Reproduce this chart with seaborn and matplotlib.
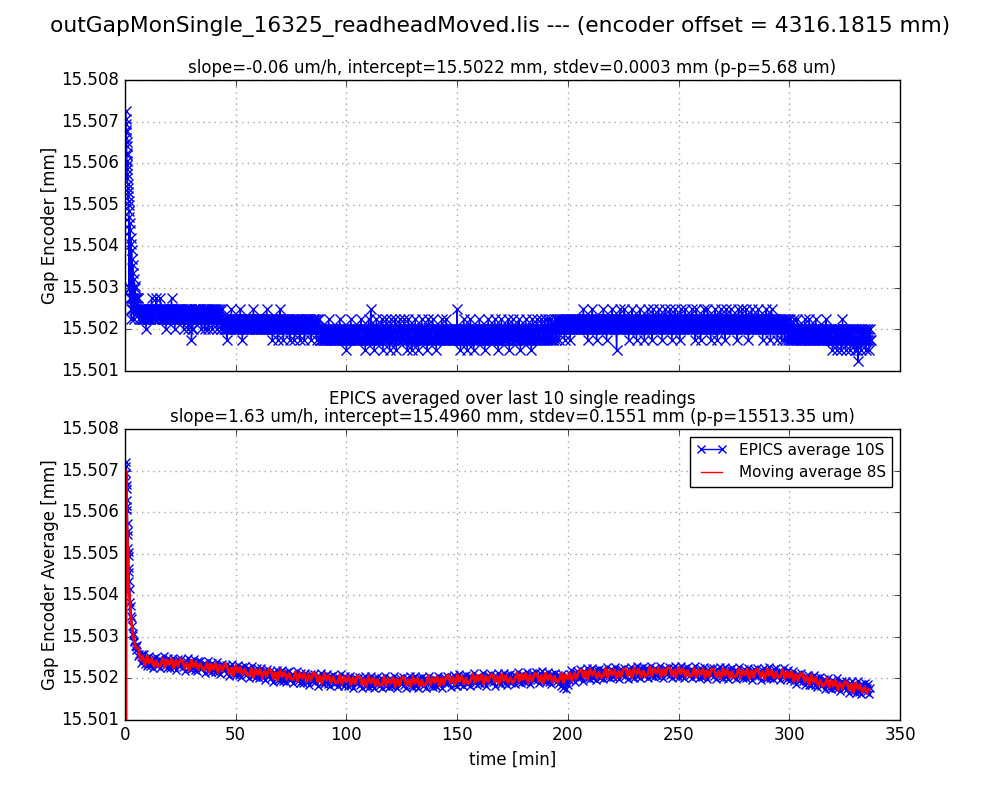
"""Gap encoder monitor: single readings and EPICS 10-sample averages."""

import matplotlib

matplotlib.use("Agg")
import matplotlib.pyplot as plt
import numpy as np
import seaborn as sns


BASE_MM = 15.500  # every *_UM value below is micrometres above this
TOP_STEP_MIN = 0.25
AVG10_STEP_MIN = 0.5
AVG8_STEP_MIN = 1.0

SUPTITLE = "outGapMonSingle_16325_readheadMoved.lis --- (encoder offset = 4316.1815 mm)"
TOP_TITLE = "slope=-0.06 um/h, intercept=15.5022 mm, stdev=0.0003 mm (p-p=5.68 um)"
BOT_TITLE = (
    "EPICS averaged over last 10 single readings\n"
    "slope=1.63 um/h, intercept=15.4960 mm, stdev=0.1551 mm (p-p=15513.35 um)"
)

# --- top panel: single readings --------------------------------------------
# first minutes, read point by point
TOP_EARLY_T = [
    0.4, 0.45, 0.5, 0.55, 0.6, 0.65, 0.7, 0.75, 0.8, 0.85,
    0.9, 0.95, 1.0, 1.05, 1.1, 1.2, 1.3, 1.4, 1.5, 1.6,
    1.7, 1.8, 1.9, 2.0, 2.1, 2.2, 2.3, 2.4, 2.5, 2.6,
    2.7, 2.8, 2.9, 3.0, 3.1, 3.2, 3.35, 3.5, 3.65, 3.8,
    3.95, 4.1, 4.25, 4.4, 4.55, 4.7, 4.85,
]
TOP_EARLY_UM = [
    7.25, 7.05, 6.95, 6.8, 6.75, 6.6, 6.5, 6.4, 6.25, 6.2,
    6.05, 5.95, 5.85, 5.75, 5.65, 5.5, 5.4, 5.3, 5.2, 5.1,
    5.0, 4.85, 3.0, 4.7, 2.75, 4.55, 3.0, 4.4, 2.5, 4.2,
    2.75, 4.05, 2.25, 3.9, 2.75, 3.7, 2.5, 3.55, 2.75, 3.35,
    2.25, 3.2, 2.75, 3.05, 2.5, 3.0, 2.75,
]
# after that the encoder sits on discrete steps; one digit per sample
TOP_LEVELS_UM = [1.00, 1.25, 1.50, 1.75, 2.00, 2.25, 2.50, 2.75, 3.00]
TOP_START_MIN = 5.0
TOP_LEVEL_CODES = [
    "7667765665566556654565566556765665567665",  # 5 - 15 min
    "6556765665566545655665567656654565566556",
    "6556654565566545655634456556655665566545",
    "5665455665456556564565566545655654456545",
    "5445344554456545544554455445654534455445",
    "4554455454456545544554455445544545546545",  # 55 min
    "5445543454455445345465544534544554455434",
    "4554453454455445344554453445544554453445",
    "4554453445544334433443344334543443344334",
    "4334433454344334433423344334543443344334",
    "3443345443344323433454346334432343543443",  # 105 min
    "4334542343345434432354344334542343345434",
    "3443543443235434432334435434432343345434",
    "4334432354344334543443234334433454344334",
    "5434433443344334433463344323433454344323",
    "4334543443234334433454344334432343345434",  # 155 min
    "4334433454344323433454344334433454234334",
    "5434433443345423433443345434433443235434",
    "4334543443345434435443345434435443345443",
    "5445345445544534544554453454455445544554",
    "4554455465544554345445546554455434544554",  # 205 min
    "5445654554345445544565544554245445654554",
    "4565544554345445655445543454456554455434",
    "5445655445543465544554456554453454456554",
    "4554655434544565544554346545544565544554",
    "5445654554346554455434544565544565455434",  # 255 min
    "4554456554345445655445543465455445655445",
    "5445543465544565455445655434544565544554",
    "4554655445543454456554455434654554455434",
    "5445543445543454453443544334543443543443",
    "4334433454344334543443344334543443344334",  # 305 min
    "3443345443344334432334433423433443235434",
    "3423433443234334432334231343342343344323",
    "34432343",
]

# --- bottom panel: EPICS average of 10 readings ----------------------------
AVG10_EARLY_T = [
    0.3, 0.4, 0.5, 0.6, 0.7, 0.8, 0.9, 1.0, 1.1, 1.2,
    1.3, 1.4, 1.5, 1.6, 1.7, 1.8, 1.9, 2.0, 2.2, 2.4,
    2.6, 2.8, 3.0, 3.25, 3.5, 3.75, 4.0, 4.25, 4.5, 4.75,
    5.0,
]
AVG10_EARLY_UM = [
    7.20, 6.95, 7.10, 6.75, 6.55, 6.65, 6.30, 6.05, 6.15, 5.75,
    5.45, 5.55, 5.15, 4.95, 5.05, 4.65, 4.55, 4.35, 4.15, 3.85,
    3.75, 3.50, 3.45, 3.25, 3.10, 3.05, 2.90, 2.88, 2.78, 2.76,
    2.68,
]
AVG10_START_MIN = 5.5
AVG10_UM = [
    2.80, 2.55, 2.60, 2.38, 2.59, 2.45, 2.59, 2.34, 2.48, 2.30,  # 5.5 - 10 min
    2.35, 2.55, 2.30, 2.47, 2.26, 2.50, 2.37, 2.52, 2.31, 2.42,
    2.47, 2.24, 2.43, 2.35, 2.53, 2.29, 2.40, 2.26, 2.48, 2.31,
    2.26, 2.39, 2.50, 2.27, 2.38, 2.21, 2.43, 2.46, 2.31, 2.34,
    2.46, 2.27, 2.37, 2.19, 2.43, 2.32, 2.48, 2.24, 2.39, 2.22,
    2.26, 2.46, 2.21, 2.38, 2.17, 2.41, 2.28, 2.43, 2.22, 2.33,  # 30.5 min
    2.37, 2.14, 2.33, 2.25, 2.43, 2.19, 2.30, 2.16, 2.38, 2.21,
    2.15, 2.28, 2.39, 2.16, 2.27, 2.10, 2.32, 2.35, 2.20, 2.23,
    2.33, 2.14, 2.24, 2.06, 2.30, 2.19, 2.35, 2.11, 2.26, 2.09,
    2.13, 2.33, 2.08, 2.25, 2.04, 2.28, 2.15, 2.30, 2.09, 2.20,
    2.24, 2.01, 2.20, 2.12, 2.30, 2.06, 2.17, 2.03, 2.25, 2.08,  # 55.5 min
    2.02, 2.15, 2.26, 2.03, 2.14, 1.97, 2.19, 2.22, 2.07, 2.10,
    2.19, 2.00, 2.10, 1.92, 2.16, 2.05, 2.21, 1.97, 2.12, 1.95,
    2.00, 2.20, 1.95, 2.12, 1.91, 2.15, 2.02, 2.17, 1.96, 2.07,
    2.11, 1.88, 2.07, 1.99, 2.17, 1.93, 2.04, 1.90, 2.12, 1.95,
    1.90, 2.03, 2.14, 1.91, 2.02, 1.85, 2.07, 2.10, 1.95, 1.98,  # 80.5 min
    2.10, 1.91, 2.01, 1.83, 2.07, 1.96, 2.12, 1.88, 2.03, 1.86,
    1.91, 2.11, 1.86, 2.03, 1.82, 2.06, 1.93, 2.08, 1.87, 1.98,
    2.04, 1.81, 2.00, 1.92, 2.10, 1.86, 1.97, 1.83, 2.05, 1.88,
    1.83, 1.96, 2.07, 1.84, 1.95, 1.78, 2.00, 2.03, 1.88, 1.91,
    2.04, 1.85, 1.95, 1.77, 2.01, 1.90, 2.06, 1.82, 1.97, 1.80,  # 105.5 min
    1.86, 2.06, 1.81, 1.98, 1.77, 2.01, 1.88, 2.03, 1.82, 1.93,
    2.00, 1.77, 1.96, 1.88, 2.06, 1.82, 1.93, 1.79, 2.01, 1.84,
    1.81, 1.94, 2.05, 1.82, 1.93, 1.76, 1.98, 2.01, 1.86, 1.89,
    2.03, 1.84, 1.94, 1.76, 2.00, 1.89, 2.05, 1.81, 1.96, 1.79,
    1.86, 2.06, 1.81, 1.98, 1.77, 2.01, 1.88, 2.03, 1.82, 1.93,  # 130.5 min
    2.01, 1.78, 1.97, 1.89, 2.07, 1.83, 1.94, 1.80, 2.02, 1.85,
    1.83, 1.96, 2.07, 1.84, 1.95, 1.78, 2.00, 2.03, 1.88, 1.91,
    2.07, 1.88, 1.98, 1.80, 2.04, 1.93, 2.09, 1.85, 2.00, 1.83,
    1.91, 2.11, 1.86, 2.03, 1.82, 2.06, 1.93, 2.08, 1.87, 1.98,
    2.06, 1.83, 2.02, 1.94, 2.12, 1.88, 1.99, 1.85, 2.07, 1.90,  # 155.5 min
    1.88, 2.01, 2.12, 1.89, 2.00, 1.83, 2.05, 2.08, 1.93, 1.96,
    2.10, 1.91, 2.01, 1.83, 2.07, 1.96, 2.12, 1.88, 2.03, 1.86,
    1.93, 2.13, 1.88, 2.05, 1.84, 2.08, 1.95, 2.10, 1.89, 2.00,
    2.09, 1.86, 2.05, 1.97, 2.15, 1.91, 2.02, 1.88, 2.10, 1.93,
    1.92, 2.05, 2.16, 1.93, 2.04, 1.87, 2.09, 2.12, 1.97, 2.00,  # 180.5 min
    2.15, 1.96, 2.06, 1.88, 2.12, 2.01, 2.17, 1.93, 2.08, 1.91,
    1.96, 2.16, 1.91, 2.08, 1.87, 2.11, 1.98, 2.13, 1.92, 2.03,
    2.08, 1.88, 2.05, 1.82, 2.10, 1.78, 1.99, 1.75, 2.04, 1.85,
    1.97, 2.10, 2.21, 1.98, 2.09, 1.92, 2.14, 2.17, 2.02, 2.05,
    2.22, 2.03, 2.13, 1.95, 2.19, 2.08, 2.24, 2.00, 2.15, 1.98,  # 205.5 min
    2.06, 2.26, 2.01, 2.18, 1.97, 2.21, 2.08, 2.23, 2.02, 2.13,
    2.21, 1.98, 2.17, 2.09, 2.27, 2.03, 2.14, 2.00, 2.22, 2.05,
    2.03, 2.16, 2.27, 2.04, 2.15, 1.98, 2.20, 2.23, 2.08, 2.11,
    2.26, 2.07, 2.17, 1.99, 2.23, 2.12, 2.28, 2.04, 2.19, 2.02,
    2.10, 2.30, 2.05, 2.22, 2.01, 2.25, 2.12, 2.27, 2.06, 2.17,  # 230.5 min
    2.25, 2.02, 2.21, 2.13, 2.31, 2.07, 2.18, 2.04, 2.26, 2.09,
    2.06, 2.19, 2.30, 2.07, 2.18, 2.01, 2.23, 2.26, 2.11, 2.14,
    2.28, 2.09, 2.19, 2.01, 2.25, 2.14, 2.30, 2.06, 2.21, 2.04,
    2.10, 2.30, 2.05, 2.22, 2.01, 2.25, 2.12, 2.27, 2.06, 2.17,
    2.23, 2.00, 2.19, 2.11, 2.29, 2.05, 2.16, 2.02, 2.24, 2.07,  # 255.5 min
    2.04, 2.17, 2.28, 2.05, 2.16, 1.99, 2.21, 2.24, 2.09, 2.12,
    2.25, 2.06, 2.16, 1.98, 2.22, 2.11, 2.27, 2.03, 2.18, 2.01,
    2.08, 2.28, 2.03, 2.20, 1.99, 2.23, 2.10, 2.25, 2.04, 2.15,
    2.21, 1.98, 2.17, 2.09, 2.27, 2.03, 2.14, 2.00, 2.22, 2.05,
    2.02, 2.15, 2.26, 2.03, 2.14, 1.97, 2.19, 2.22, 2.07, 2.10,  # 280.5 min
    2.24, 2.05, 2.15, 1.97, 2.21, 2.10, 2.26, 2.02, 2.17, 2.00,
    2.07, 2.27, 2.02, 2.19, 1.98, 2.22, 2.09, 2.24, 2.03, 2.14,
    2.19, 1.96, 2.15, 2.07, 2.25, 2.01, 2.12, 1.98, 2.20, 2.03,
    1.97, 2.09, 2.19, 1.95, 2.05, 1.87, 2.09, 2.11, 1.95, 1.98,
    2.13, 1.93, 2.02, 1.84, 2.06, 1.95, 2.09, 1.84, 1.99, 1.84,  # 305.5 min
    1.90, 2.09, 1.84, 2.00, 1.79, 2.02, 1.89, 2.04, 1.82, 1.93,
    1.99, 1.75, 1.94, 1.85, 2.02, 1.78, 1.89, 1.75, 1.96, 1.79,
    1.76, 1.89, 2.00, 1.77, 1.87, 1.70, 1.91, 1.94, 1.78, 1.80,
    1.94, 1.75, 1.84, 1.66, 1.89, 1.78, 1.93, 1.69, 1.83, 1.66,
    1.73, 1.93, 1.68, 1.84, 1.63, 1.87, 1.73, 1.88, 1.67, 1.77,  # 330.5 min
    1.86, 1.62, 1.78,
]

# --- bottom panel: moving average over 8 samples ---------------------------
AVG8_FIRST_T = 0.4
AVG8_FIRST_MM = 0.0  # buffer still empty on the first sample
AVG8_EARLY_T = [0.5, 0.7, 1.0, 1.3, 1.45, 1.7, 2.1, 2.5, 2.9, 3.5, 4.0, 4.4, 5.0]
AVG8_EARLY_UM = [7.0, 5.9, 5.45, 5.0, 4.35, 4.15, 3.9, 3.6, 3.35, 3.1, 2.95, 2.85, 2.73]
AVG8_START_MIN = 6.0
AVG8_UM = [
    2.72, 2.45, 2.53, 2.32, 2.54, 2.37, 2.48, 2.29, 2.43, 2.28,  # 6 - 15 min
    2.31, 2.49, 2.27, 2.45, 2.33, 2.47, 2.25, 2.43, 2.29, 2.47,
    2.42, 2.24, 2.38, 2.20, 2.44, 2.28, 2.40, 2.22, 2.36, 2.22,
    2.20, 2.38, 2.16, 2.34, 2.22, 2.36, 2.14, 2.32, 2.18, 2.36,
    2.29, 2.11, 2.25, 2.07, 2.31, 2.15, 2.27, 2.09, 2.23, 2.09,
    2.07, 2.25, 2.03, 2.21, 2.09, 2.23, 2.01, 2.19, 2.05, 2.23,  # 56 min
    2.18, 2.00, 2.14, 1.96, 2.20, 2.04, 2.16, 1.98, 2.12, 1.98,
    1.98, 2.16, 1.94, 2.12, 2.00, 2.14, 1.92, 2.10, 1.96, 2.14,
    2.10, 1.92, 2.06, 1.88, 2.12, 1.96, 2.08, 1.90, 2.04, 1.90,
    1.90, 2.08, 1.86, 2.04, 1.92, 2.06, 1.84, 2.02, 1.88, 2.06,
    2.03, 1.85, 1.99, 1.81, 2.05, 1.89, 2.01, 1.83, 1.97, 1.83,  # 106 min
    1.86, 2.04, 1.82, 2.00, 1.88, 2.02, 1.80, 1.98, 1.84, 2.02,
    2.02, 1.84, 1.98, 1.80, 2.04, 1.88, 2.00, 1.82, 1.96, 1.82,
    1.88, 2.06, 1.84, 2.02, 1.90, 2.04, 1.82, 2.00, 1.86, 2.04,
    2.07, 1.89, 2.03, 1.85, 2.09, 1.93, 2.05, 1.87, 2.01, 1.87,
    1.93, 2.11, 1.89, 2.07, 1.95, 2.09, 1.87, 2.05, 1.91, 2.09,  # 156 min
    2.09, 1.91, 2.05, 1.87, 2.11, 1.95, 2.07, 1.89, 2.03, 1.89,
    1.96, 2.14, 1.92, 2.10, 1.98, 2.12, 1.90, 2.08, 1.94, 2.12,
    2.11, 1.93, 2.07, 1.89, 2.13, 1.97, 2.09, 1.91, 2.05, 1.91,
    1.94, 2.12, 1.90, 2.09, 1.98, 2.13, 1.93, 2.13, 2.00, 2.19,
    2.21, 2.03, 2.17, 1.99, 2.23, 2.07, 2.19, 2.01, 2.15, 2.01,  # 206 min
    2.06, 2.24, 2.02, 2.20, 2.08, 2.22, 2.00, 2.18, 2.04, 2.22,
    2.24, 2.06, 2.20, 2.02, 2.26, 2.10, 2.22, 2.04, 2.18, 2.04,
    2.10, 2.28, 2.06, 2.24, 2.12, 2.26, 2.04, 2.22, 2.08, 2.26,
    2.25, 2.07, 2.21, 2.03, 2.27, 2.11, 2.23, 2.05, 2.19, 2.05,
    2.07, 2.25, 2.03, 2.21, 2.09, 2.23, 2.01, 2.19, 2.05, 2.23,  # 256 min
    2.22, 2.04, 2.18, 2.00, 2.24, 2.08, 2.20, 2.02, 2.16, 2.02,
    2.06, 2.24, 2.02, 2.20, 2.08, 2.22, 2.00, 2.18, 2.04, 2.22,
    2.21, 2.03, 2.17, 1.99, 2.23, 2.07, 2.19, 2.01, 2.15, 2.01,
    2.05, 2.22, 1.99, 2.16, 2.03, 2.16, 1.93, 2.10, 1.95, 2.12,
    2.11, 1.92, 2.05, 1.85, 2.08, 1.91, 2.02, 1.83, 1.96, 1.81,  # 306 min
    1.84, 2.01, 1.78, 1.95, 1.82, 1.95, 1.72, 1.89, 1.75, 1.92,
    1.91, 1.72, 1.86, 1.67, 1.90, 1.74, 1.85, 1.66, 1.79, 1.65,
    1.74,
]


def um_to_mm(values_um):
    return BASE_MM + np.asarray(values_um, dtype=float) / 1000.0


def regular_times(start, step, count):
    return start + step * np.arange(count)


# top series
codes = [int(c) for c in "".join(TOP_LEVEL_CODES)]
top_main_um = [TOP_LEVELS_UM[c] for c in codes]
top_t = np.concatenate([TOP_EARLY_T, regular_times(TOP_START_MIN, TOP_STEP_MIN, len(codes))])
top_mm = np.concatenate([um_to_mm(TOP_EARLY_UM), um_to_mm(top_main_um)])

# bottom series
avg10_t = np.concatenate(
    [AVG10_EARLY_T, regular_times(AVG10_START_MIN, AVG10_STEP_MIN, len(AVG10_UM))]
)
avg10_mm = np.concatenate([um_to_mm(AVG10_EARLY_UM), um_to_mm(AVG10_UM)])

avg8_t = np.concatenate(
    [[AVG8_FIRST_T], AVG8_EARLY_T, regular_times(AVG8_START_MIN, AVG8_STEP_MIN, len(AVG8_UM))]
)
avg8_mm = np.concatenate([[AVG8_FIRST_MM], um_to_mm(AVG8_EARLY_UM), um_to_mm(AVG8_UM)])


plt.style.use("classic")
plt.rcParams.update(
    {
        "figure.facecolor": "white",
        "savefig.facecolor": "white",
        "font.family": ["DejaVu Sans"],
        "font.size": 12,
        "axes.titlesize": 12,
        "legend.fontsize": 11,
    }
)

fig, (ax_top, ax_bot) = plt.subplots(2, 1, figsize=(10, 8), dpi=100, sharex=True)

blue_kw = dict(
    estimator=None,
    sort=False,
    color="blue",
    linewidth=1.0,
    marker="x",
    markeredgecolor="blue",
    markeredgewidth=1.0,
)

sns.lineplot(x=top_t, y=top_mm, ax=ax_top, legend=False, markersize=7, **blue_kw)
sns.lineplot(
    x=avg10_t, y=avg10_mm, ax=ax_bot, label="EPICS average 10S", markersize=6, **blue_kw
)
sns.lineplot(
    x=avg8_t,
    y=avg8_mm,
    ax=ax_bot,
    estimator=None,
    sort=False,
    color="red",
    linewidth=2.0,
    label="Moving average 8S",
)

for ax in (ax_top, ax_bot):
    ax.set_xlim(0, 350)
    ax.set_ylim(15.501, 15.508)
    ax.ticklabel_format(axis="y", useOffset=False)
    ax.grid(True, color="0.65", linestyle=":", linewidth=1.0)
    ax.set_axisbelow(True)

ax_top.set_title(TOP_TITLE)
ax_top.set_xlabel("")
ax_top.set_ylabel("Gap Encoder [mm]", labelpad=2)

ax_bot.set_title(BOT_TITLE, linespacing=1.0)
ax_bot.set_xlabel("time [min]")
ax_bot.set_ylabel("Gap Encoder Average [mm]", labelpad=2)
leg = ax_bot.legend(
    loc="upper right", numpoints=2, fancybox=False, framealpha=1.0, edgecolor="black"
)
leg.get_lines()[1].set_linewidth(1.0)

fig.suptitle(SUPTITLE, fontsize=15.7)
fig.savefig("out.png", dpi=100)
